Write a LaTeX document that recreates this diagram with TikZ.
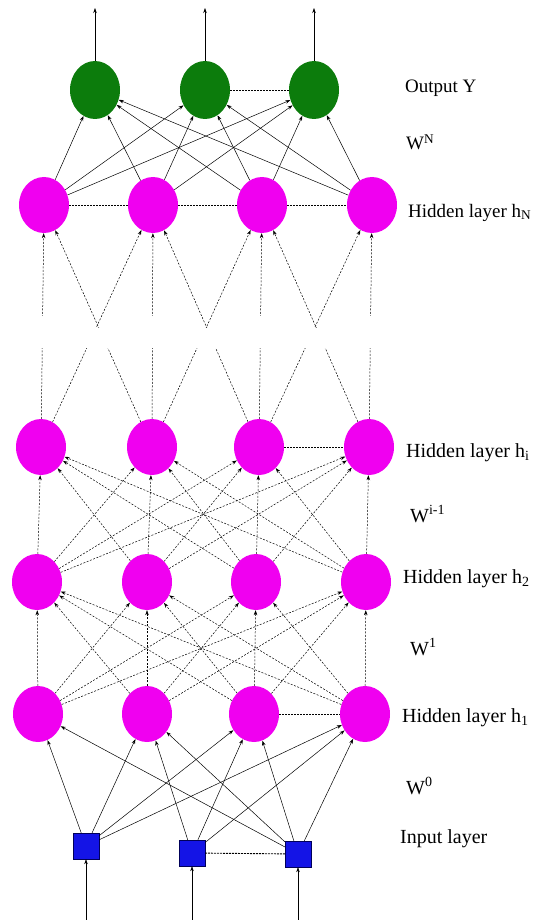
\documentclass[tikz,border=0pt]{standalone}
\usepackage{fontspec}
\setmainfont{Liberation Serif}
\usetikzlibrary{shapes.geometric,arrows.meta}
\definecolor{outgreen}{RGB}{12,124,12}
\definecolor{hidmag}{RGB}{240,0,240}
\definecolor{inblue}{RGB}{20,20,230}
\begin{document}
\begin{tikzpicture}[x=1pt,y=-1pt,
 outnode/.style={ellipse, fill=outgreen, minimum width=50pt, minimum height=58pt, inner sep=0pt},
 hidnode/.style={ellipse, fill=hidmag, minimum width=50pt, minimum height=56pt, inner sep=0pt},
 innode/.style={rectangle, fill=inblue, draw=blue!35!black, line width=0.4pt, minimum size=26pt, inner sep=0pt},
 conn/.style={-{Stealth[length=5pt,width=3.5pt]}, line width=0.5pt},
 dconn/.style={conn, dash pattern=on 2pt off 1.5pt},
 dotline/.style={line width=0.9pt, dash pattern=on 2pt off 1pt},
 lab/.style={anchor=base west, inner sep=0pt, font=\fontsize{19}{22}\selectfont},
 labb/.style={anchor=base west, inner sep=0pt, font=\fontsize{20}{24}\selectfont}]

\useasboundingbox (0,0) rectangle (533,920);
\clip (0,0) rectangle (533,920);

% nodes
\foreach \i/\x in {1/95,2/205,3/314} \node[outnode] (o\i) at (\x,90) {};
\foreach \i/\x in {1/44,2/153,3/262,4/372} \node[hidnode] (n\i) at (\x,205) {};
\foreach \i/\x in {1/41,2/152,3/259,4/369} \node[hidnode] (c\i) at (\x,447) {};
\foreach \i/\x in {1/37,2/147,3/256,4/366} \node[hidnode] (b\i) at (\x,582) {};
\foreach \i/\x in {1/38,2/147,3/254,4/365} \node[hidnode] (a\i) at (\x,714) {};
\node[innode] (x1) at (86,846) {};
\node[innode] (x2) at (192,853) {};
\node[innode] (x3) at (298,854) {};

% free ends
\foreach \i/\x in {1/95,2/205,3/314} \coordinate (ot\i) at (\x,8);
\coordinate (it1) at (86,920);
\coordinate (it2) at (192,920);
\coordinate (it3) at (298,920);

% output arrows
\foreach \i in {1,2,3} \draw[conn] (o\i) -- (ot\i);
% input arrows
\foreach \i in {1,2,3} \draw[conn] (it\i) -- (x\i);

% hN -> output
\foreach \k in {1,...,4} \foreach \o in {1,2,3} \draw[conn] (n\k) -- (o\o);

% gap region between hi and hN
\begin{scope}
 \clip (0,0) rectangle (533,315);
 \foreach \k in {1,...,4} \draw[dconn] (c\k) -- (n\k);
\end{scope}
\begin{scope}
 \clip (0,0) rectangle (533,327);
 \foreach \j/\k in {1/2,2/1,2/3,3/2,3/4,4/3} \draw[dconn] (c\j) -- (n\k);
\end{scope}
\begin{scope}
 \clip (0,348) rectangle (533,920);
 \foreach \k in {1,...,4} \draw[dconn] (c\k) -- (n\k);
 \foreach \j/\k in {1/2,2/1,2/3,3/2,3/4,4/3} \draw[dconn] (c\j) -- (n\k);
\end{scope}

% h2 -> hi
\foreach \k in {1,...,4} \foreach \j in {1,...,4} \draw[dconn] (b\k) -- (c\j);
% h1 -> h2
\foreach \k in {1,...,4} \foreach \j in {1,...,4} \draw[dconn] (a\k) -- (b\j);
% input -> h1
\foreach \s/\t in {1/1,1/2,1/3,1/4,2/2,2/3,2/4,3/1,3/2,3/3,3/4} \draw[conn] (x\s) -- (a\t);

% dotted links within layers
\draw[dotline] (o2) -- (o3);
\draw[dotline] (n1) -- (n2);
\draw[dotline] (n2) -- (n3);
\draw[dotline] (n3) -- (n4);
\draw[dotline] (c3) -- (c4);
\draw[dotline] (a3) -- (a4);
\draw[dotline] (x2) -- (x3);

% labels
\node[lab] (lo) at (405,93) {Output Y};
\node[lab] (lwn) at (406,150) {W\textsuperscript{N}};
\node[lab] (lhn) at (408,217) {Hidden layer h\textsubscript{N}};
\node[labb] (lhi) at (406,457) {Hidden layer h\textsubscript{i}};
\node[labb] (lwi) at (410,522) {W\textsuperscript{i-1}};
\node[labb] (lh2) at (403,583) {Hidden layer h\textsubscript{2}};
\node[labb] (lw1) at (410,655) {W\textsuperscript{1}};
\node[labb] (lh1) at (402,722) {Hidden layer h\textsubscript{1}};
\node[labb] (lw0) at (406,794) {W\textsuperscript{0}};
\node[labb] (lin) at (400,843) {Input layer};
\end{tikzpicture}
\end{document}
